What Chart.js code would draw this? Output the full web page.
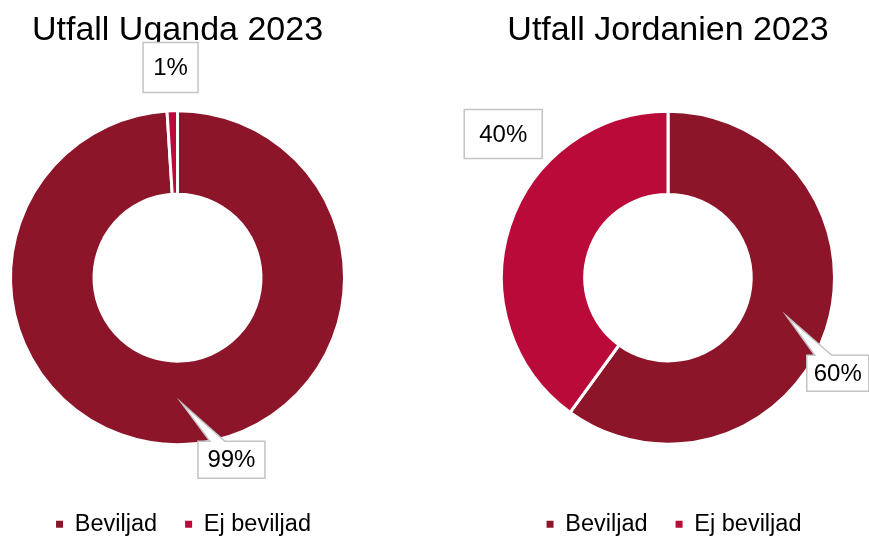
<!DOCTYPE html>
<html>
<head>
<meta charset="utf-8">
<title>Utfall 2023</title>
<script src="https://cdn.jsdelivr.net/npm/chart.js@4/dist/chart.umd.min.js"></script>
<style>
    html, body { margin: 0; padding: 0; background: #fff; overflow: hidden; }
    #wrap { position: relative; width: 869px; height: 536px; overflow: hidden; }
    #wrap canvas { position: absolute; left: 0; top: 0; }
</style>
</head>
<body>
<div id="wrap">
    <canvas id="ugandaChart" width="869" height="546"></canvas>
    <canvas id="jordanChart" width="869" height="546"></canvas>
</div>
<script>
// Data
const categories = ['Beviljad', 'Ej beviljad'];
const ugandaValues = [99, 1];
const jordanValues = [60, 40];
const chartTitles = ['Utfall Uganda 2023', 'Utfall Jordanien 2023'];
const sliceColors = ['#8c1529', '#ba0a3a'];

Chart.defaults.font.family = '"Liberation Sans", Arial, sans-serif';
Chart.defaults.color = '#000';

// Callout boxes with percentages, anchored on each slice's centroid
const calloutPlugin = {
    id: 'callouts',
    afterLayout(chart, args, opts) {
        // legend sits a little right of the donut centre in the original
        if (chart.legend) {
            chart.legend.left += opts.legendShift;
            chart.legend.right += opts.legendShift;
        }
    },
    afterDatasetsDraw(chart, args, opts) {
        const ctx = chart.ctx;
        const meta = chart.getDatasetMeta(0);
        const values = chart.data.datasets[0].data;
        const total = values.reduce((a, b) => a + b, 0);
        meta.data.forEach((arc, i) => {
            const c = opts.boxes[i];
            const p = arc.tooltipPosition();
            const cx = p.x + c.dx, cy = p.y + c.dy;
            const left = cx - c.w / 2, top = cy - c.h / 2;
            const right = left + c.w, bottom = top + c.h;
            ctx.save();
            ctx.beginPath();
            ctx.moveTo(left, top);
            if (c.pointer) {
                ctx.lineTo(left + c.pointer[0], top);
                ctx.lineTo(p.x, p.y);
                ctx.lineTo(left + c.pointer[1], top);
            }
            ctx.lineTo(right, top);
            ctx.lineTo(right, bottom);
            ctx.lineTo(left, bottom);
            ctx.closePath();
            ctx.fillStyle = '#fff';
            ctx.fill();
            ctx.lineWidth = 1.5;
            ctx.strokeStyle = '#c4c4c4';
            ctx.stroke();
            ctx.fillStyle = '#000';
            ctx.font = '24px "Liberation Sans", Arial, sans-serif';
            ctx.textAlign = 'center';
            ctx.textBaseline = 'middle';
            ctx.fillText(Math.round(values[i] / total * 100) + '%', cx, cy + 1);
            ctx.restore();
        });
    }
};

function makeDonut(canvasId, title, values, padding, boxes) {
    return new Chart(document.getElementById(canvasId), {
        type: 'doughnut',
        data: {
            labels: categories,
            datasets: [{
                data: values,
                backgroundColor: sliceColors,
                borderColor: '#fff',
                borderWidth: 3
            }]
        },
        options: {
            responsive: false,
            animation: false,
            events: [],
            cutout: '50%',
            layout: { padding: padding },
            plugins: {
                title: {
                    display: true,
                    text: title,
                    color: '#000',
                    font: { size: 34, weight: 'normal' },
                    padding: { top: 10, bottom: 20 }
                },
                legend: {
                    position: 'bottom',
                    labels: {
                        boxWidth: 7,
                        boxHeight: 7,
                        padding: 28,
                        color: '#000',
                        font: { size: 23.5 },
                        generateLabels: (chart) =>
                            Chart.overrides.doughnut.plugins.legend.labels.generateLabels(chart)
                                .map(l => Object.assign(l, { lineWidth: 0 }))
                    }
                },
                tooltip: { enabled: false },
                callouts: { boxes: boxes, legendShift: 6 }
            }
        },
        plugins: [calloutPlugin]
    });
}

makeDonut('ugandaChart', chartTitles[0], ugandaValues,
    { left: 9, right: 523, top: 0, bottom: 0 },
    [
        { dx: 50, dy: 57, w: 67, h: 37, pointer: [12, 27] },
        { dx: -3, dy: -85, w: 55, h: 50 }
    ]);

makeDonut('jordanChart', chartTitles[1], jordanValues,
    { left: 500, right: 33, top: 0, bottom: 0 },
    [
        { dx: 51, dy: 57, w: 62, h: 36, pointer: [8, 25] },
        { dx: -46, dy: -105, w: 78, h: 49 }
    ]);
</script>
</body>
</html>
